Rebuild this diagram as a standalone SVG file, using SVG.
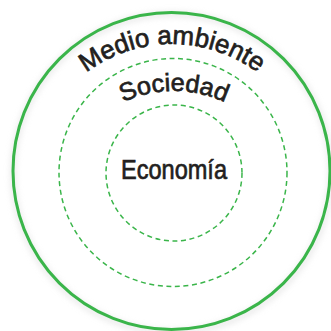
<svg xmlns="http://www.w3.org/2000/svg" width="331" height="331" viewBox="0 0 331 331">
  <defs>
    <style>
      .ring { fill: none; stroke: #3ab54a; }
      .solid { stroke-width: 3; }
      .dash { stroke-width: 1.5; stroke-dasharray: 5 3.6; }
      .lbl { font-family: "Liberation Sans", Arial, sans-serif; fill: #231f20; stroke: #231f20; stroke-width: 0.7; }
    </style>
    <filter id="sh" x="-20%" y="-20%" width="140%" height="140%">
      <feGaussianBlur stdDeviation="3"/>
    </filter>
    <path id="arcMedio" d="M30,186 A142,142 0 0 1 314,186"/>
    <path id="arcSoc" d="M54,211 A120,120 0 0 1 294,211"/>
  </defs>
  <rect width="331" height="331" fill="#ffffff"/>
  <circle cx="172" cy="173" r="159" fill="none" stroke="#d8d8d8" stroke-width="5" filter="url(#sh)" opacity="0.6"/>
  <g id="medio-ambiente">
    <circle class="ring solid" cx="171.5" cy="171" r="158.5" fill="#ffffff"/>
    <text class="lbl" font-size="26" textLength="184" lengthAdjust="spacingAndGlyphs"><textPath href="#arcMedio" startOffset="50%" text-anchor="middle">Medio ambiente</textPath></text>
  </g>
  <g id="sociedad">
    <circle class="ring dash" cx="173" cy="172.5" r="114"/>
    <text class="lbl" font-size="25" textLength="105" lengthAdjust="spacingAndGlyphs"><textPath href="#arcSoc" startOffset="50%" text-anchor="middle">Sociedad</textPath></text>
  </g>
  <g id="economia">
    <circle class="ring dash" cx="174" cy="173" r="68"/>
    <text class="lbl" x="174" y="179" font-size="28" text-anchor="middle" textLength="106" lengthAdjust="spacingAndGlyphs">Economía</text>
  </g>
</svg>
